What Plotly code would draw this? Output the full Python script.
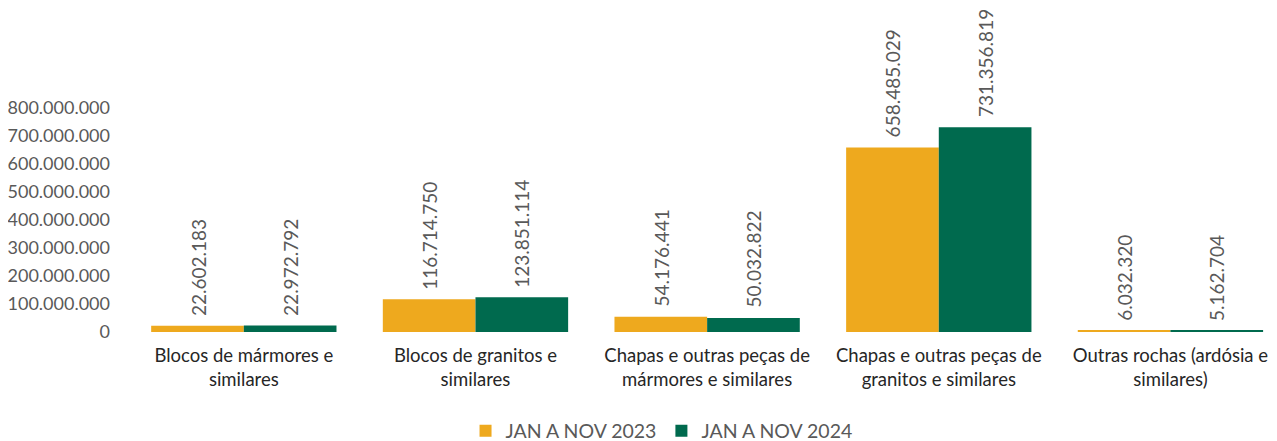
import plotly.graph_objects as go

categories = ["Blocos de mármores e<br>similares", "Blocos de granitos e<br>similares",
              "Chapas e outras peças de<br>mármores e similares", "Chapas e outras peças de<br>granitos e similares",
              "Outras rochas (ardósia e<br>similares)"]
series_names = ["JAN A NOV 2023", "JAN A NOV 2024"]
values_2023 = [22602183, 116714750, 54176441, 658485029, 6032320]
values_2024 = [22972792, 123851114, 50032822, 731356819, 5162704]
colors = ["#EEA91E", "#006A4E"]
tick_vals = [0, 100e6, 200e6, 300e6, 400e6, 500e6, 600e6, 700e6, 800e6]
tick_text = ["0", "100.000.000", "200.000.000", "300.000.000", "400.000.000",
             "500.000.000", "600.000.000", "700.000.000", "800.000.000"]

def fmt(v):
    return f"{v:,}".replace(",", ".")

FONT = "Lato"
fig = go.Figure()
for name, vals, col in zip(series_names, [values_2023, values_2024], colors):
    fig.add_trace(go.Bar(x=list(range(len(categories))), y=vals, name=name,
                         marker=dict(color=col, line=dict(width=0))))

annotations = []
for k, vals in enumerate([values_2023, values_2024]):
    for i, v in enumerate(vals):
        annotations.append(dict(x=i, y=v, xref="x", yref="y", text=fmt(v), showarrow=False,
                                textangle=-90, xanchor="center", yanchor="bottom",
                                xshift=(-46 if k == 0 else 46), yshift=9, borderpad=0,
                                font=dict(family=FONT, size=19, color="#595959")))

fig.update_layout(
    width=1269, height=433,
    margin=dict(l=120, r=0, t=0, b=109, autoexpand=False),
    paper_bgcolor="white", plot_bgcolor="white",
    barmode="group", bargap=0.2, bargroupgap=0,
    font=dict(family=FONT, size=18, color="#595959"),
    annotations=annotations,
    legend=dict(orientation="h", x=0.515, xref="container", xanchor="center", y=0.023,
                yref="container", yanchor="middle",
                font=dict(family=FONT, size=19.5, color="#595959"), itemwidth=30,
                traceorder="normal"),
    xaxis=dict(range=[-0.5, 4.46], tickmode="array", tickvals=list(range(5)), ticktext=categories,
               showgrid=False, zeroline=False, showline=False, ticks="", automargin=False,
               ticklabelstandoff=10,
               tickfont=dict(family=FONT, size=18.5, color="#262626")),
    yaxis=dict(range=[0, 1157e6], tickmode="array", tickvals=tick_vals, ticktext=tick_text,
               showgrid=False, zeroline=False, showline=False, ticks="", ticklabelstandoff=17,
               automargin=False,
               tickfont=dict(family=FONT, size=18, color="#595959")),
    showlegend=True,
)
fig.write_html("out.html")
